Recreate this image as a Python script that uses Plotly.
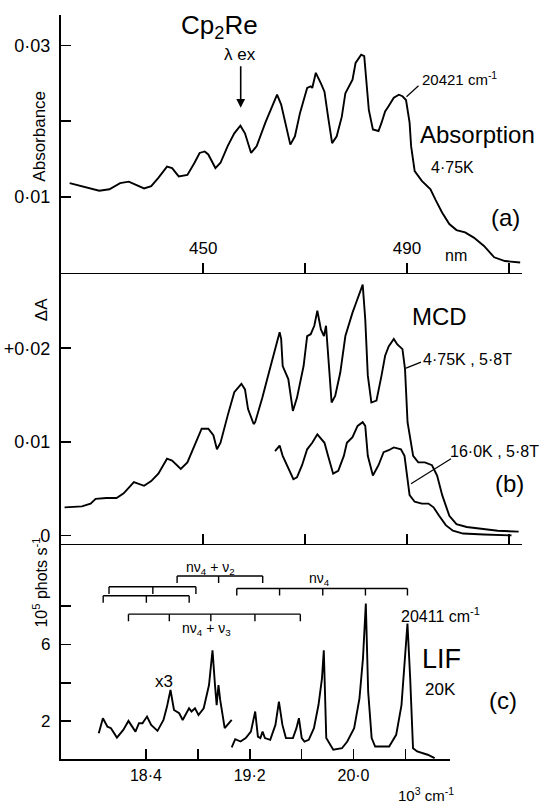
import plotly.graph_objects as go

W, H = 543, 806
FONT = "Liberation Sans, Arial, sans-serif"

# ---------------- data ----------------
# (a) Absorption, 4.75 K  (wavelength nm, absorbance)
abs_nm = [423.8, 426.2, 429.6, 431.6, 433.7, 435.4, 436.7, 438.4, 439.8, 441.2,
          442.9, 443.9, 445.2, 446.9, 448.3, 449.3, 450.3, 451.0, 452.4, 453.4,
          454.8, 456.1, 457.3, 458.2, 459.4, 460.5, 462.2, 463.6, 464.5, 465.3,
          466.3, 467.1, 468.0, 469.0, 470.4, 471.1, 471.4, 472.1, 473.1, 473.8,
          474.5, 475.3, 476.2, 477.2, 477.9, 478.6, 479.3, 479.9, 481.0, 481.6,
          482.0, 482.5, 483.3, 484.4, 485.0, 485.7, 486.4, 487.4, 488.4, 489.1,
          489.8, 490.5, 490.8, 491.5, 492.9, 494.6, 495.6, 496.9, 498.3, 499.7,
          501.4, 503.1, 505.1, 507.1, 509.2, 512.2]
abs_val = [0.0118, 0.0114, 0.0108, 0.0110, 0.0118, 0.0120, 0.0116, 0.0111, 0.0114, 0.0125,
           0.0140, 0.0138, 0.0127, 0.0129, 0.0145, 0.0158, 0.0160, 0.0156, 0.0138, 0.0145,
           0.0167, 0.0184, 0.0194, 0.0184, 0.0158, 0.0167, 0.0198, 0.0220, 0.0235, 0.0222,
           0.0193, 0.0169, 0.0180, 0.0211, 0.0244, 0.0246, 0.0244, 0.0264, 0.0250, 0.0239,
           0.0206, 0.0171, 0.0180, 0.0206, 0.0237, 0.0246, 0.0255, 0.0277, 0.0288, 0.0286,
           0.0255, 0.0215, 0.0189, 0.0187, 0.0198, 0.0213, 0.0220, 0.0231, 0.0235, 0.0233,
           0.0228, 0.0198, 0.0167, 0.0134, 0.0121, 0.0110, 0.0096, 0.0079, 0.0064, 0.0056,
           0.0053, 0.0046, 0.0035, 0.0020, 0.0015, 0.0013]

# (b) MCD, 4.75 K, 5.8 T
mcd1_nm = [422.8, 426.2, 427.9, 428.9, 431.0, 433.0, 434.4, 436.4, 438.4, 439.8,
           441.2, 442.9, 443.9, 445.6, 446.9, 448.3, 449.7, 451.0, 452.0, 452.7,
           453.4, 454.8, 456.1, 457.5, 458.2, 458.8, 459.9, 460.2, 461.6, 462.9,
           464.3, 465.0, 465.3, 465.6, 466.7, 467.6, 468.4, 469.7, 470.4, 471.1,
           471.8, 472.4, 473.1, 473.7, 474.1, 474.5, 475.2, 475.9, 476.9, 477.9,
           478.6, 479.3, 479.9, 480.6, 481.3, 481.8, 482.3, 483.0, 484.0, 485.0,
           485.7, 486.4, 487.4, 488.1, 489.1, 489.6, 490.1, 491.2, 492.2, 493.5,
           494.9, 495.9, 496.9, 498.3, 499.7, 501.7, 505.1, 507.8, 511.9]
mcd1_val = [0.0030, 0.0031, 0.0034, 0.0039, 0.0040, 0.0040, 0.0045, 0.0057, 0.0053, 0.0058,
            0.0066, 0.0082, 0.0080, 0.0071, 0.0078, 0.0096, 0.0114, 0.0114, 0.0107, 0.0092,
            0.0099, 0.0128, 0.0153, 0.0162, 0.0156, 0.0135, 0.0119, 0.0121, 0.0147, 0.0174,
            0.0202, 0.0217, 0.0210, 0.0181, 0.0167, 0.0133, 0.0147, 0.0181, 0.0213, 0.0215,
            0.0224, 0.0240, 0.0220, 0.0213, 0.0224, 0.0192, 0.0142, 0.0149, 0.0174, 0.0213,
            0.0226, 0.0238, 0.0247, 0.0258, 0.0268, 0.0231, 0.0171, 0.0142, 0.0144, 0.0171,
            0.0192, 0.0202, 0.0210, 0.0204, 0.0199, 0.0178, 0.0121, 0.0085, 0.0078, 0.0078,
            0.0075, 0.0064, 0.0043, 0.0021, 0.0012, 0.0009, 0.0007, 0.0005, 0.0004]

# (b) MCD, 16.0 K, 5.8 T
mcd2_nm = [464.1, 465.0, 465.6, 466.7, 467.7, 468.4, 469.4, 470.4, 471.4, 472.4,
           473.1, 473.8, 474.5, 475.5, 476.5, 477.6, 478.2, 479.3, 480.3, 481.3,
           481.8, 482.3, 483.3, 484.4, 485.4, 486.4, 487.4, 488.8, 489.5, 490.1,
           490.5, 491.5, 492.9, 494.2, 495.2, 496.3, 497.6, 499.0, 501.0, 505.1, 510.5]
mcd2_val = [0.0090, 0.0096, 0.0085, 0.0071, 0.0060, 0.0062, 0.0075, 0.0092, 0.0099, 0.0108,
            0.0103, 0.0099, 0.0085, 0.0066, 0.0069, 0.0085, 0.0099, 0.0105, 0.0117, 0.0121,
            0.0117, 0.0085, 0.0064, 0.0075, 0.0089, 0.0091, 0.0094, 0.0092, 0.0085, 0.0057,
            0.0043, 0.0036, 0.0034, 0.0034, 0.0030, 0.0021, 0.0011, 0.0005, 0.0002, 0.0001, 0.0000]

# (c) LIF, 20 K  (10^3 cm-1, 10^5 phots s-1); low-energy part shown x3
lif1_nu = [18.036, 18.068, 18.103, 18.130, 18.176, 18.225, 18.265, 18.319, 18.346, 18.373,
           18.408, 18.440, 18.489, 18.535, 18.562, 18.589, 18.616, 18.635, 18.656, 18.683,
           18.732, 18.751, 18.778, 18.805, 18.845, 18.886, 18.913, 18.932, 18.945, 18.959,
           18.972, 19.007, 19.061]
lif1_val = [1.36, 2.14, 1.70, 1.62, 1.13, 1.53, 2.00, 1.44, 1.88, 1.88,
            2.23, 1.79, 1.48, 2.05, 2.75, 3.62, 2.57, 2.49, 2.40, 2.05,
            2.66, 2.49, 2.66, 2.31, 2.66, 3.88, 5.70, 3.88, 2.83, 3.88,
            3.10, 1.62, 2.05]
lif2_nu = [19.061, 19.088, 19.129, 19.169, 19.209, 19.242, 19.263, 19.282, 19.299, 19.317,
           19.358, 19.398, 19.425, 19.452, 19.479, 19.533, 19.560, 19.579, 19.601, 19.622,
           19.655, 19.695, 19.730, 19.757, 19.771, 19.790, 19.844, 19.911, 19.952, 20.005,
           20.046, 20.073, 20.095, 20.113, 20.140, 20.167, 20.275, 20.329, 20.370, 20.397,
           20.416, 20.437, 20.459, 20.491, 20.572, 20.626]
lif2_val = [0.61, 1.04, 0.92, 1.10, 1.44, 2.49, 1.18, 1.10, 1.44, 1.10,
            1.01, 1.79, 3.01, 1.79, 1.10, 1.10, 1.62, 2.14, 1.10, 0.92,
            1.01, 1.62, 2.83, 4.23, 5.70, 1.10, 0.49, 0.57, 0.92, 1.62,
            3.18, 5.27, 8.14, 3.53, 1.10, 0.66, 0.66, 1.27, 2.83, 5.10,
            7.10, 4.23, 0.57, 0.40, 0.23, 0.05]

# vibronic progressions (10^3 cm-1)
prog_nu4 = [19.10, 19.43, 19.763, 20.092, 20.416]
prog_nu4_nu3 = [18.265, 18.58, 18.90, 19.24, 19.59]
prog_nu4_nu2 = [18.64, 18.96, 19.30]
prog_left_upper = [18.115, 18.453, 18.785]
prog_left_lower = [18.07, 18.403, 18.733]

# tick values / labels
nm_ticks = [450, 470, 490, 510]
nm_labels = ["450", "", "490", ""]
abs_ticks = [0.01, 0.02, 0.03]
abs_labels = ["0·01", "", "0·03"]
mcd_ticks = [0, 0.01, 0.02]
mcd_labels = ["0", "0·01", "+0·02"]
nu_ticks = [18.4, 18.8, 19.2, 19.6, 20.0, 20.4]
nu_labels = ["18·4", "", "19·2", "", "20·0", ""]
lif_ticks = [2, 4, 6, 8]
lif_labels = ["2", "", "6", ""]

# ---------------- figure ----------------
LINE = dict(color="black", width=1.9)
fig = go.Figure()
fig.add_trace(go.Scatter(x=abs_nm, y=abs_val, mode="lines", line=LINE, xaxis="x", yaxis="y"))
fig.add_trace(go.Scatter(x=mcd1_nm, y=mcd1_val, mode="lines", line=LINE, xaxis="x2", yaxis="y2"))
fig.add_trace(go.Scatter(x=mcd2_nm, y=mcd2_val, mode="lines", line=LINE, xaxis="x2", yaxis="y2"))
fig.add_trace(go.Scatter(x=lif1_nu, y=lif1_val, mode="lines", line=LINE, xaxis="x3", yaxis="y3"))
fig.add_trace(go.Scatter(x=lif2_nu, y=lif2_val, mode="lines", line=LINE, xaxis="x3", yaxis="y3"))

# progression combs
combs = [(prog_nu4_nu2, 9.59), (prog_left_upper, 9.02), (prog_nu4, 8.93),
         (prog_left_lower, 8.55), (prog_nu4_nu3, 7.59)]
TICK_DEPTH = 0.37
bx, by = [], []
for pos, lev in combs:
    bx += [pos[0], pos[-1], None]
    by += [lev, lev, None]
    for p in pos:
        bx += [p, p, None]
        by += [lev, lev - TICK_DEPTH, None]
fig.add_trace(go.Scatter(x=bx, y=by, mode="lines", line=dict(color="black", width=1.4),
                         xaxis="x3", yaxis="y3"))


def px_x(px):
    return px / W


def px_y(py):
    return 1 - py / H


XDOM_AB = [px_x(60.5), px_x(521.7)]
XDOM_C = [px_x(60.5), px_x(450)]


def axis_common(size):
    return dict(showline=True, linecolor="black", linewidth=1.6, showgrid=False,
                zeroline=False, ticks="inside", tickcolor="black", tickwidth=1.6,
                ticklen=10, tickfont=dict(family=FONT, size=size, color="black"))


fig.update_layout(
    width=W, height=H, autosize=False, showlegend=False,
    margin=dict(l=0, r=0, t=0, b=0),
    paper_bgcolor="white", plot_bgcolor="white",
    xaxis=dict(domain=XDOM_AB, range=[422.0, 512.5], anchor="y",
               tickvals=nm_ticks, ticktext=nm_labels, ticklabelposition="inside",
               ticklabelstandoff=6, **axis_common(17)),
    yaxis=dict(domain=[px_y(273.3), px_y(15)], range=[-0.00003, 0.03405], anchor="x",
               tickvals=abs_ticks, ticktext=abs_labels, ticklabelstandoff=5, **axis_common(18)),
    xaxis2=dict(domain=XDOM_AB, range=[422.0, 512.5], anchor="y2",
                tickvals=nm_ticks, showticklabels=False, **axis_common(17)),
    yaxis2=dict(domain=[px_y(545), px_y(273.3)], range=[-0.00088, 0.02808], anchor="x2",
                tickvals=mcd_ticks, ticktext=mcd_labels, ticklabelstandoff=5, **axis_common(18)),
    xaxis3=dict(domain=XDOM_C, range=[17.741, 20.744], anchor="y3",
                tickvals=nu_ticks, ticktext=nu_labels, ticklabelstandoff=1, **axis_common(16)),
    yaxis3=dict(domain=[px_y(761), px_y(545)], range=[0, 11.28], anchor="x3",
                tickvals=lif_ticks, ticktext=lif_labels, ticklabelstandoff=5, **axis_common(17)),
)


def ann(text, px, py, size, angle=0):
    return dict(text=text, x=px_x(px), y=px_y(py), xref="paper", yref="paper",
                showarrow=False, xanchor="center", yanchor="middle", textangle=angle,
                font=dict(family=FONT, size=size, color="black"))


annotations = [
    ann("Cp<sub>2</sub>Re", 219, 27, 26),
    ann("λ ex", 240, 55, 17),
    ann("20421 cm<sup>-1</sup>", 460, 79, 15),
    ann("Absorption", 477, 135, 24),
    ann("4·75K", 452, 168, 16),
    ann("(a)", 505, 218, 24),
    ann("nm", 456, 256, 16),
    ann("MCD", 439, 317, 24),
    ann("4·75K , 5·8T", 467, 360, 16),
    ann("16·0K , 5·8T", 494, 453, 16),
    ann("(b)", 509, 485, 24),
    ann("nν<sub>4</sub> + ν<sub>2</sub>", 210, 569, 14),
    ann("nν<sub>4</sub>", 319, 580, 14),
    ann("nν<sub>4</sub> + ν<sub>3</sub>", 206, 631, 14),
    ann("x3", 164, 683, 17),
    ann("20411 cm<sup>-1</sup>", 440, 617, 16),
    ann("LIF", 441, 661, 27),
    ann("20K", 440, 691, 17),
    ann("(c)", 503, 702, 24),
    ann("10<sup>3</sup> cm<sup>-1</sup>", 426, 796, 15),
    ann("Absorbance", 40, 137, 17, -90),
    ann("ΔA", 41, 311, 17, -90),
    ann("10<sup>5</sup> phots s<sup>-1</sup>", 40, 584, 16, -90),
    dict(x=px_x(240.7), y=px_y(108), ax=0, ay=-43, xref="paper", yref="paper",
         text="", showarrow=True, arrowhead=2,
         arrowsize=1.1, arrowwidth=1.6, arrowcolor="black"),
]
fig.update_layout(annotations=annotations)

leaders = [((406.5, 97), (418.5, 86)), ((406, 369), (421, 363)), ((411, 485), (451, 460))]
fig.update_layout(shapes=[dict(type="line", xref="paper", yref="paper",
                               x0=px_x(a[0]), y0=px_y(a[1]), x1=px_x(b[0]), y1=px_y(b[1]),
                               line=dict(color="black", width=1.2)) for a, b in leaders])

fig.write_html("out.html", config={"displayModeBar": False, "staticPlot": True},
               post_script="document.body.style.margin='0';document.body.style.padding='0';")
